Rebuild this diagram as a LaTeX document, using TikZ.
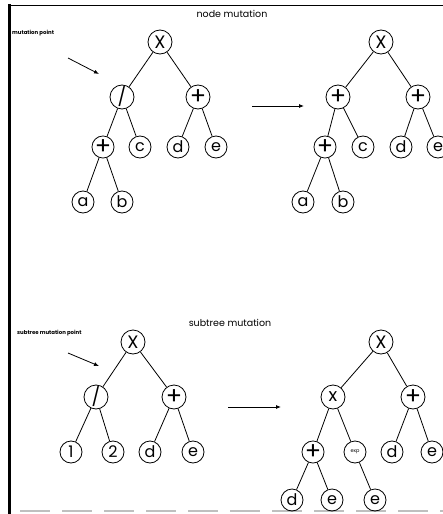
\documentclass[tikz,border=0pt]{standalone}
\usepackage{fontspec}
\setmainfont{Poppins}
\usetikzlibrary{arrows.meta}
\tikzset{
  tnode/.style={draw=black, circle, minimum size=24pt, inner sep=0pt, line width=0.8pt, font=\fontsize{18}{18}\selectfont},
  leaf/.style={tnode, minimum size=22pt, font=\fontsize{16}{16}\selectfont},
  plusnode/.style={font=\fontsize{24}{24}\selectfont},
  edge/.style={line width=0.8pt},
  arrow/.style={-{Latex[length=5pt,width=4pt]}, line width=0.8pt},
  title/.style={font=\fontsize{9.5}{11}\selectfont, inner sep=0pt},
  pointlabel/.style={font=\bfseries\fontsize{5.4}{6}\selectfont, inner sep=0pt, anchor=west}
}
\begin{document}
\begin{tikzpicture}[x=1pt, y=-1pt]
\useasboundingbox (0,0) rectangle (443,514);
% frame
\draw[line width=2.4pt] (9.5,4) -- (9.5,514);
\draw[line width=0.8pt] (9,5) -- (443,5);
\draw[line width=1.2pt, black!25, dash pattern=on 30pt off 12pt] (20,511) -- (443,511);

% node mutation
\node[title] (t1) at (232,14) {node mutation};
\node[pointlabel] (mp) at (12,33) {mutation point};
\coordinate (mpfrom) at (68,58);
\coordinate (mpto) at (99,74);
\draw[arrow] (mpfrom) -- (mpto);

\node[tnode] (ax) at (160,42) {X};
\node[tnode] (adiv) at (122,97) {/};
\node[tnode, plusnode] (aplus) at (198,97) {+};
\node[leaf, plusnode] (aplusb) at (103,147) {+};
\node[leaf] (ac) at (140,147) {c};
\node[leaf] (ad) at (178,147) {d};
\node[leaf] (ae) at (216,147) {e};
\node[leaf] (aa) at (83,202) {a};
\node[leaf] (ab) at (122,202) {b};
\draw[edge] (ax) -- (adiv);
\draw[edge] (ax) -- (aplus);
\draw[edge] (adiv) -- (aplusb);
\draw[edge] (adiv) -- (ac);
\draw[edge] (aplus) -- (ad);
\draw[edge] (aplus) -- (ae);
\draw[edge] (aplusb) -- (aa);
\draw[edge] (aplusb) -- (ab);

\node[tnode] (bx) at (381,42) {X};
\node[tnode, plusnode] (bnew) at (338,97) {+};
\node[tnode, plusnode] (bplus) at (418,97) {+};
\node[leaf, plusnode] (bplusb) at (325,147) {+};
\node[leaf] (bc) at (363,147) {c};
\node[leaf] (bd) at (401,147) {d};
\node[leaf] (be) at (438,147) {e};
\node[leaf] (ba) at (303,202) {a};
\node[leaf] (bb) at (343,202) {b};
\draw[edge] (bx) -- (bnew);
\draw[edge] (bx) -- (bplus);
\draw[edge] (bnew) -- (bplusb);
\draw[edge] (bnew) -- (bc);
\draw[edge] (bplus) -- (bd);
\draw[edge] (bplus) -- (be);
\draw[edge] (bplusb) -- (ba);
\draw[edge] (bplusb) -- (bb);

\coordinate (arr1from) at (252,106);
\coordinate (arr1to) at (304,106);
\draw[arrow] (arr1from) -- (arr1to);

% subtree mutation
\node[title] (t2) at (230,323) {subtree mutation};
\node[pointlabel] (smp) at (17,333) {subtree mutation point};
\coordinate (smpfrom) at (68,353);
\coordinate (smpto) at (99,366);
\draw[arrow] (smpfrom) -- (smpto);

\node[tnode] (cx) at (133,342) {X};
\node[tnode] (cdiv) at (96,397) {/};
\node[tnode, plusnode] (cplus) at (174,397) {+};
\node[leaf] (cone) at (71,452) {1};
\node[leaf] (ctwo) at (113,452) {2};
\node[leaf] (cd) at (150,452) {d};
\node[leaf] (ce) at (193,452) {e};
\draw[edge] (cx) -- (cdiv);
\draw[edge] (cx) -- (cplus);
\draw[edge] (cdiv) -- (cone);
\draw[edge] (cdiv) -- (ctwo);
\draw[edge] (cplus) -- (cd);
\draw[edge] (cplus) -- (ce);

\node[tnode] (dx) at (381,342) {X};
\node[tnode] (dtimes) at (333,397) {x};
\node[tnode, plusnode] (dplus) at (413,397) {+};
\node[leaf, plusnode] (dplusb) at (313,452) {+};
\node[leaf, font=\fontsize{5}{5}\selectfont] (dexp) at (355,452) {exp};
\node[leaf] (dd) at (392,452) {d};
\node[leaf] (de) at (432,452) {e};
\node[leaf] (ddd) at (292,500) {d};
\node[leaf] (dde) at (332,500) {e};
\node[leaf] (dee) at (375,500) {e};
\draw[edge] (dx) -- (dtimes);
\draw[edge] (dx) -- (dplus);
\draw[edge] (dtimes) -- (dplusb);
\draw[edge] (dtimes) -- (dexp);
\draw[edge] (dplus) -- (dd);
\draw[edge] (dplus) -- (de);
\draw[edge] (dplusb) -- (ddd);
\draw[edge] (dplusb) -- (dde);
\draw[edge] (dexp) -- (dee);

\coordinate (arr2from) at (228,407);
\coordinate (arr2to) at (281,407);
\draw[arrow] (arr2from) -- (arr2to);
\end{tikzpicture}
\end{document}
